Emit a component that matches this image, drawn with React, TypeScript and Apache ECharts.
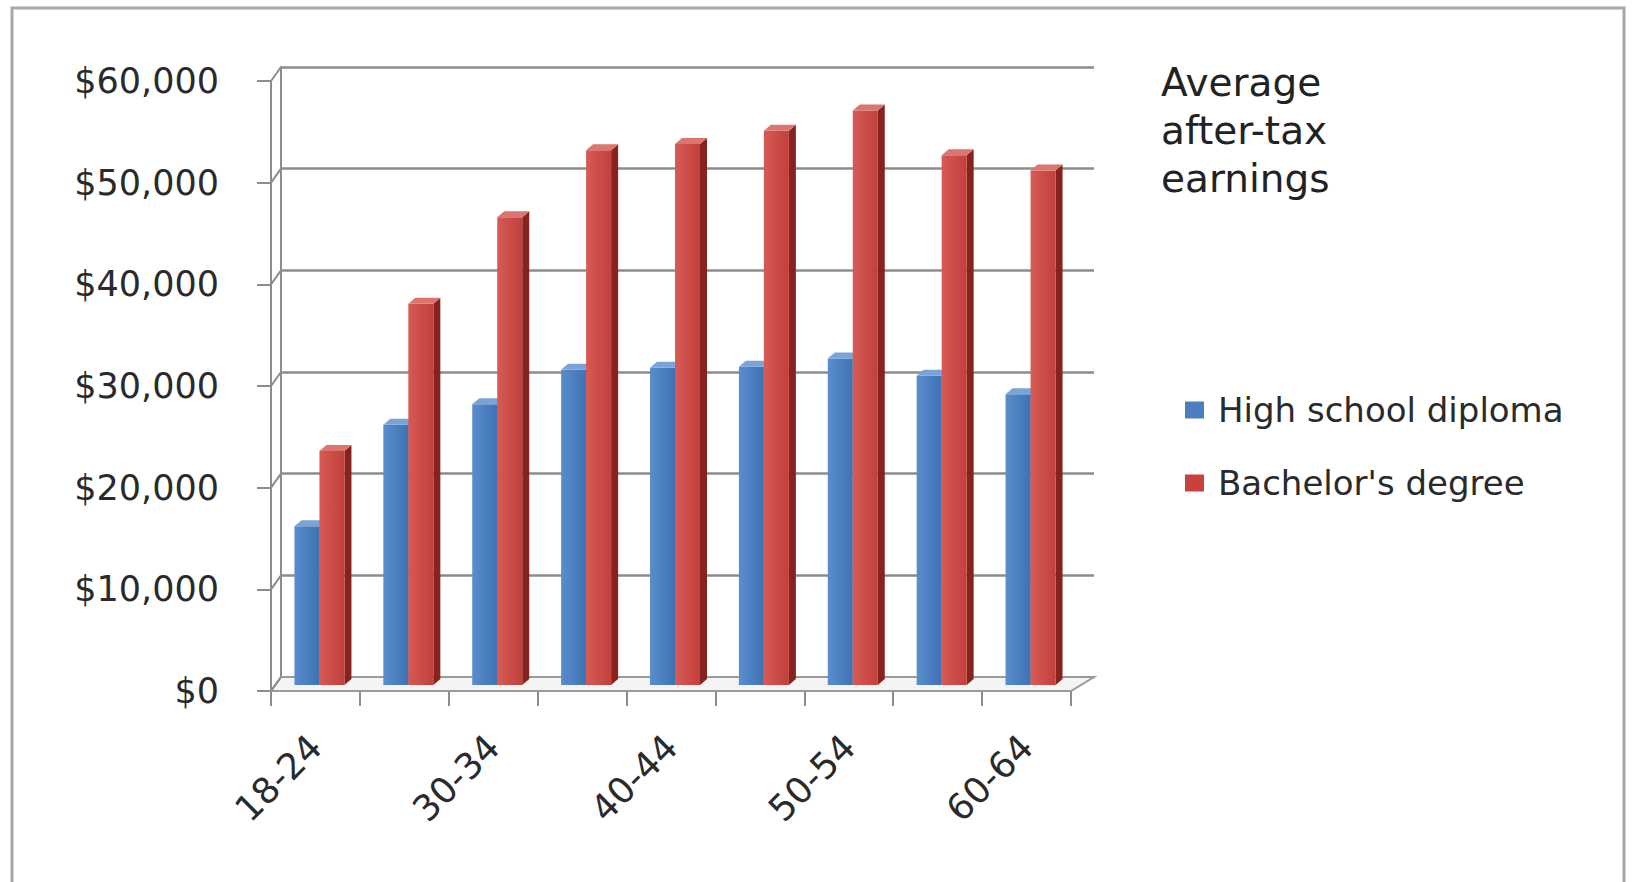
import React, { useEffect, useRef } from "react";
import * as echarts from "echarts";

const categories = ["18-24", "25-29", "30-34", "35-39", "40-44", "45-49", "50-54", "55-59", "60-64"];
const highSchool = [16200, 26200, 28200, 31600, 31800, 31900, 32700, 31000, 29200];
const bachelors = [23600, 38100, 46600, 53200, 53800, 55100, 57100, 52700, 51200];
const seriesNames = ["High school diploma", "Bachelor's degree"];
const titleText = "Average\nafter-tax\nearnings";
const yMin = 0;
const yMax = 60000;
const yInterval = 10000;

const FONT = "DejaVu Sans";

const FRONT = { left: 271, top: 81, width: 800, height: 610 };
const BACK = { left: 281, top: 67, width: 813, height: 610 };
const MID = { left: 275, top: 75, width: 800, height: 610 };

const palettes = [
  { face0: "#5a8dcc", face1: "#3f72b4", side: "#2f5688", top: "#7aa3d8", legend: "#4a7ebf" },
  { face0: "#d65a55", face1: "#c2403b", side: "#86231f", top: "#dc7470", legend: "#c8413c" },
];

function makeRender(idx: number) {
  const p = palettes[idx];
  return (params: any, api: any) => {
    const ci = api.value(0);
    const v = api.value(1);
    const topPt = api.coord([ci, v]);
    const basePt = api.coord([ci, 0]);
    const bw = 25;
    const dx = 7;
    const dy = 6;
    const x = idx === 0 ? topPt[0] - bw : topPt[0];
    const ty = topPt[1];
    const by = basePt[1];
    return {
      type: "group",
      children: [
        {
          type: "polygon",
          shape: {
            points: [
              [x + bw, ty + dy],
              [x + bw + dx, ty],
              [x + bw + dx, by - dy],
              [x + bw, by],
            ],
          },
          style: { fill: p.side },
        },
        {
          type: "rect",
          shape: { x: x, y: ty + dy, width: bw, height: by - ty - dy },
          style: {
            fill: new echarts.graphic.LinearGradient(0, 0, 1, 0, [
              { offset: 0, color: p.face0 },
              { offset: 1, color: p.face1 },
            ]),
          },
        },
        {
          type: "polygon",
          shape: {
            points: [
              [x, ty + dy],
              [x + dx, ty],
              [x + bw + dx, ty],
              [x + bw, ty + dy],
            ],
          },
          style: { fill: p.top },
        },
      ],
    };
  };
}

export default function App() {
  const ref = useRef<HTMLDivElement>(null);

  useEffect(() => {
    if (!ref.current) return;
    const chart = echarts.init(ref.current, undefined, { renderer: "svg" });

    const nTicks = (yMax - yMin) / yInterval;
    const step = FRONT.height / nTicks;
    const diagonals: any[] = [];
    for (let i = 0; i <= nTicks; i++) {
      const yf = FRONT.top + i * step;
      const yb = BACK.top + i * step;
      diagonals.push({
        type: "line",
        z: 1,
        shape: { x1: FRONT.left, y1: yf, x2: BACK.left, y2: yb },
        style: { stroke: "#8c8c8c", lineWidth: 2 },
      });
    }

    const fb = FRONT.top + FRONT.height;
    const bb = BACK.top + BACK.height;

    const option: any = {
      animation: false,
      backgroundColor: "#ffffff",
      title: {
        text: titleText,
        left: 1156,
        top: 53,
        textStyle: {
          fontFamily: FONT,
          fontSize: 39,
          lineHeight: 48,
          fontWeight: "normal",
          color: "#222222",
        },
      },
      legend: {
        orient: "vertical",
        left: 1180,
        top: 388,
        itemWidth: 19,
        itemHeight: 17,
        itemGap: 39,
        icon: "rect",
        data: seriesNames,
        textStyle: { fontFamily: FONT, fontSize: 34, color: "#2a2a2a", padding: [0, 0, 0, 9] },
      },
      graphic: [
        {
          type: "rect",
          z: 0,
          shape: { x: 12, y: 8, width: 1612, height: 900 },
          style: { fill: "none", stroke: "#a8a8a8", lineWidth: 3 },
        },
        {
          type: "polygon",
          z: 1,
          shape: {
            points: [
              [FRONT.left, fb],
              [FRONT.left + FRONT.width, fb],
              [BACK.left + BACK.width, bb],
              [BACK.left, bb],
            ],
          },
          style: { fill: "#f4f4f4", stroke: "#9a9a9a", lineWidth: 2 },
        },
        ...diagonals,
      ],
      grid: [
        { ...FRONT, containLabel: false },
        { ...BACK, containLabel: false },
        { ...MID, containLabel: false },
      ],
      xAxis: [
        {
          type: "category",
          gridIndex: 0,
          data: categories,
          axisLine: { show: true, lineStyle: { color: "#8c8c8c", width: 2 } },
          axisTick: { show: true, interval: 0, length: 15, lineStyle: { color: "#8c8c8c", width: 2 } },
          axisLabel: {
            interval: 1,
            rotate: 45,
            margin: 50,
            fontFamily: FONT,
            fontSize: 36,
            color: "#2a2a2a",
          },
          splitLine: { show: false },
        },
        {
          type: "category",
          gridIndex: 1,
          data: categories,
          axisLine: { show: false },
          axisTick: { show: false },
          axisLabel: { show: false },
        },
        {
          type: "category",
          gridIndex: 2,
          data: categories,
          axisLine: { show: false },
          axisTick: { show: false },
          axisLabel: { show: false },
        },
      ],
      yAxis: [
        {
          type: "value",
          gridIndex: 0,
          min: yMin,
          max: yMax,
          interval: yInterval,
          axisLine: { show: true, lineStyle: { color: "#8c8c8c", width: 2 } },
          axisTick: { show: true, length: 14, lineStyle: { color: "#8c8c8c", width: 2 } },
          axisLabel: {
            margin: 52,
            fontFamily: FONT,
            fontSize: 35,
            color: "#2a2a2a",
            formatter: (v: number) => "$" + v.toLocaleString("en-US"),
          },
          splitLine: { show: false },
        },
        {
          type: "value",
          gridIndex: 1,
          min: yMin,
          max: yMax,
          interval: yInterval,
          axisLine: { show: true, lineStyle: { color: "#8c8c8c", width: 2 } },
          axisTick: { show: false },
          axisLabel: { show: false },
          splitLine: { show: true, lineStyle: { color: "#8c8c8c", width: 2.5 } },
        },
        {
          type: "value",
          gridIndex: 2,
          min: yMin,
          max: yMax,
          interval: yInterval,
          axisLine: { show: false },
          axisTick: { show: false },
          axisLabel: { show: false },
          splitLine: { show: false },
        },
      ],
      series: [
        {
          name: seriesNames[0],
          type: "custom",
          xAxisIndex: 2,
          yAxisIndex: 2,
          z: 3,
          itemStyle: { color: palettes[0].legend },
          encode: { x: 0, y: 1 },
          renderItem: makeRender(0),
          data: highSchool.map((v, i) => [i, v]),
        },
        {
          name: seriesNames[1],
          type: "custom",
          xAxisIndex: 2,
          yAxisIndex: 2,
          z: 4,
          itemStyle: { color: palettes[1].legend },
          encode: { x: 0, y: 1 },
          renderItem: makeRender(1),
          data: bachelors.map((v, i) => [i, v]),
        },
      ],
    };

    chart.setOption(option);
    return () => chart.dispose();
  }, []);

  return (
    <div
      ref={ref}
      style={{ position: "fixed", left: 0, top: 0, width: 1633, height: 882, background: "#fff" }}
    />
  );
}
